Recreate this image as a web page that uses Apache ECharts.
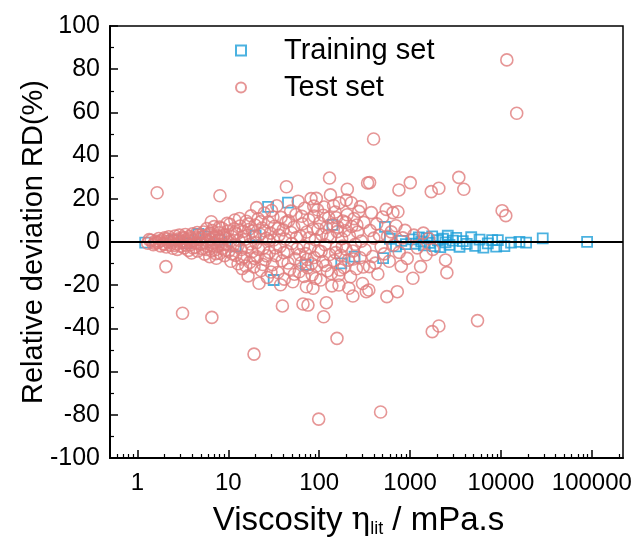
<!DOCTYPE html>
<html><head><meta charset="utf-8">
<script src="https://cdn.jsdelivr.net/npm/echarts@6/dist/echarts.min.js"></script>
<style>html,body{margin:0;padding:0;background:#fff}#c{width:639px;height:538px}</style>
</head><body><div id="c"></div>
<script>
// Tick labels
const xMajorTicks = [1, 10, 100, 1000, 10000, 100000];
const xMinorTicks = [0.6,0.7,0.8,0.9,2,3,4,5,6,7,8,9,20,30,40,50,60,70,80,90,200,300,400,500,600,700,800,900,2000,3000,4000,5000,6000,7000,8000,9000,20000,30000,40000,50000,60000,70000,80000,90000,200000];
const yTicks = [-100,-80,-60,-40,-20,0,20,40,60,80,100];

// Series: [viscosity (mPa.s), relative deviation (%)]
const trainingSet = [
 [1.22,-0.3],[2.5,0.8],[3.5,-0.5],[4.7,3.7],[5.6,2.5],[8,1],[12,-2],[20,3],[27.4,16.3],[31.6,-17.6],[45.4,18.2],[71,-10.6],[140,7.9],[175,-9.9],[245,-6.8],[505,-7.5],[530,7.0],[600,1.5],[700,-2],[800,0.5],[900,-1],
 [1074,1.2],[1150,-0.8],[1250,2.1],[1327,0.3],[1420,-1.6],[1520,1.8],[1638,-0.4],[1750,2.6],[1870,-1.9],[2021,0.8],[2150,-2.4],[2300,1.5],[2456,-0.2],[2600,2.9],[2717,-1.3],[2950,0.6],[3218,1.9],[3500,-2.2],[3803,0.4],[4200,-0.9],[4706,2.2],[5200,-1.8],[5810,1.1],[6400,-2.6],[7164,-0.6],[8000,0.9],[8858,-2.1],[9230,0.9],[10900,-1.9],[12900,-0.3],[15960,0.1],[18900,-0.3],[28800,1.7],[88600,0.1]
];
const testSet = [
 [1.65,22.8],[2.06,-11.4],[3.14,-33.0],[6.6,-34.9],[8.1,21.4],[6.5,9.4],[19.2,-51.9],
 [1.3,-0.6],[1.42,0.8],[1.5,-1.2],[1.58,0.4],[1.66,-0.3],[1.72,1.6],[1.8,-1.8],[1.86,0.9],[1.93,-0.7],[2.0,1.9],[2.08,-2.3],[2.15,0.2],[2.22,2.4],[2.3,-1.4],[2.38,1.1],[2.45,-2.9],[2.52,0.6],[2.6,2.8],[2.68,-0.9],[2.75,-3.4],[2.83,1.5],[2.9,3.2],[3.0,-1.9],[3.1,0.3],[3.2,2.1],[3.28,-2.7],[3.37,3.5],[3.45,-0.4],[3.55,1.3],[3.65,-3.9],[3.75,2.6],[3.85,-1.2],[3.95,-5.1],[4.05,3.8],[4.15,0.7],[4.3,-2.4],[4.45,1.9],[4.6,-4.2],[4.75,3.1],[4.9,-0.8],
 [1.35,1.1],[1.55,-0.5],[1.75,0.3],[1.98,-1.1],[2.12,1.3],[2.35,-0.2],[2.57,-1.6],[2.78,0.9],[2.95,-0.3],[3.15,1.7],[3.42,-1.5],[3.7,0.5],[3.9,1.9],[4.1,-2.8],[4.38,-0.4],[4.55,4.4],[4.85,1.2],
 [5.05,2.3],[5.2,-3.1],[5.35,4.6],[5.5,-5.6],[5.65,0.9],[5.8,6.2],[5.95,-2.2],[6.1,3.4],[6.25,-6.8],[6.4,1.2],[6.55,-4.1],[6.7,5.3],[6.85,-0.5],[7.0,7.1],[7.2,-3.6],[7.4,-7.5],[7.55,2.8],[7.7,-1.7],[7.9,4.3],[8.1,-5.2],[8.3,0.6],[8.5,6.4],[8.7,-2.9],[8.9,3.2],[9.1,-6.3],[9.35,1.8],[9.6,-0.9],[9.85,5.1],
 [5.12,-1.1],[5.45,2.9],[5.72,-3.4],[6.0,0.2],[6.3,4.1],[6.62,-1.8],[6.95,2.4],[7.3,-5.4],[7.65,0.9],[8.0,6.9],[8.4,-1.2],[8.8,2.5],[9.25,-3.8],[9.7,8.6],
 [10.1,-4.3],[10.4,8.2],[10.7,-8.9],[11.0,2.4],[11.3,-1.6],[11.6,6.1],[11.8,10.2],[12.1,-6.2],[12.4,3.7],[12.8,-10.1],[13.1,0.8],[13.5,7.4],[13.9,-3.5],[14.2,-12.3],[14.6,4.9],[15.0,-7.1],[15.4,1.3],[15.8,9.6],[16.2,-2.4],[16.5,-15.7],[16.8,5.8],[17.3,-9.4],[17.8,12.1],[18.2,-4.6],[18.7,2.1],[19.2,-11.5],[19.7,7.9],[20.2,-0.4],[20.8,-6.8],[21.3,10.7],[21.8,-19.1],[22.4,3.6],[23.0,-13.2],[23.6,6.5],[24.2,-2.9],[24.9,13.4],[25.5,-8.1],[26.2,1.7],[26.9,-16.4],[27.6,9.2],[28.3,-4.8],[29.1,4.1],[29.9,14.6],
 [10.6,0.4],[11.1,-5.5],[11.9,4.3],[12.6,-2.2],[13.3,10.9],[14.0,-7.9],[14.9,2.6],[15.6,-11.1],[16.6,8.4],[17.5,-0.9],[18.5,5.1],[19.5,-7.6],[20.5,15.9],[21.6,-3.4],[22.8,9.4],[24.0,-10.4],[25.2,5.2],[26.5,-6.4],[28.0,0.7],[29.5,-13.9],
 [30.7,-10.5],[31.5,0.9],[32.4,7.3],[33.3,-6.3],[34.2,16.8],[35.1,-14.1],[36.1,3.2],[37.1,-2.1],[38.1,11.4],[39.1,-8.7],[39.4,-29.6],[40.2,5.6],[41.3,-17.2],[42.4,1.4],[43.6,25.6],[44.8,-4.4],[46.0,9.8],[47.3,-12.6],[48.6,14.3],[49.9,-0.7],[51.3,-18.4],[52.7,6.9],[54.1,-7.8],[55.6,12.8],[57.1,-3.1],[58.7,18.9],[60.3,-13.8],[62.0,2.7],[63.7,-9.6],[65.4,8.4],[66.4,-28.7],[67.2,-1.9],[69.1,15.6],[71.0,-5.4],[72.3,-20.7],[73.0,4.6],[75.0,-11.9],[75.3,-29.2],[77.1,10.3],[79.2,-2.6],[81.4,20.1],[83.6,-15.2],[85.5,-21.4],[86.0,6.1],[88.0,12.0],[88.3,-7.2],[90.8,1.1],[93.0,20.2],[93.3,-11.1],[95.9,14.9],[98.8,-82.0],[98.6,-4.1],
 [31.0,11.6],[33.0,-2.7],[35.5,6.3],[37.6,-19.8],[40.8,-4.9],[43.0,9.1],[45.5,-9.7],[49.0,4.4],[53.4,-14.9],[56.3,2.1],[61.0,-5.9],[64.5,11.9],[68.0,-15.9],[74.0,-8.1],[78.1,1.9],[82.5,-10.1],[87.1,16.6],[92.0,-16.9],[97.0,5.9],
 [101,8.9],[104,-17.6],[107,3.4],[110,-9.1],[112,-34.6],[113,16.2],[116,-1.3],[120,-28.1],[120,6.7],[123,-13.4],[127,11.3],[130,29.6],[130,-5.8],[133,21.8],[134,2.2],[138,-20.3],[142,8.1],[146,-8.6],[150,13.9],[154,-2.7],[155,11.2],[157,-44.6],[158,4.8],[163,-15.4],[165,-19.9],[167,18.1],[172,-6.1],[177,1.5],[182,9.7],[187,-11.8],[192,5.2],[199,19.4],[197,-3.3],[204,24.4],[203,12.6],[209,-8.4],[215,2.9],[221,-16.1],[226,18.2],[228,7.2],[235,-25.0],[235,-4.2],[242,10.8],[249,-1.1],[257,-12.4],[265,4.6],[273,14.2],[282,-7.3],[291,0.4],[300,-19.2],
 [105,-4.4],[111,12.4],[118,-10.9],[125,2.9],[136,-14.6],[144,16.9],[152,-4.9],[161,6.9],[170,-12.9],[180,-1.9],[195,9.1],[212,-21.4],[238,-7.9],[260,7.9],[285,16.4],[305,-11.6],
 [310,9.1],[320,-3.6],[330,-23.0],[341,27.3],[352,-22.2],[357,-11.4],[359,27.5],[363,5.3],[375,13.6],[388,-6.7],[397,47.7],[400,1.8],[415,-9.8],[430,8.4],[442,-14.8],[460,3.1],[474,-78.7],[480,-2.2],[500,11.6],[520,-5.5],[547,15.1],[556,-25.3],[565,2.6],[590,-8.9],[620,4.7],[648,13.6],[660,-1.4],[700,7.5],[723,-23.0],[735,14.0],[754,24.1],[760,-4.8],[800,-11.2],[830,1.9],[880,5.4],[930,-7.6],
 [1005,27.5],[1074,-16.8],[1100,3.2],[1200,-2.7],[1305,-11.4],[1400,4.1],[1500,-5.9],[1600,1.6],[1710,23.3],[1754,-41.5],[1780,-3.4],[2073,24.9],[2074,-38.9],[2455,-8.3],[2540,-14.2],[3437,29.9],[3900,24.4],[5520,-36.4],[10300,14.5],[11300,12.2],[11600,84.3],[14900,59.6]
];

const FONT = 'Liberation Sans, Arial, sans-serif';
const BLUE = '#1E9FD8';
const RED = '#E07C7C';

const chart = echarts.init(document.getElementById('c'), null, {renderer: 'canvas'});
const xBase = {
  type: 'log', logBase: 10, min: 0.5, max: 220000, gridIndex: 0, position: 'bottom',
  splitLine: {show: false}, minorTick: {show: false}, minorSplitLine: {show: false}
};
chart.setOption({
  animation: false,
  backgroundColor: '#fff',
  grid: {left: 110, right: 16, top: 26, bottom: 80, show: true, borderColor: '#000', borderWidth: 1.5,
         containLabel: false, outerBoundsMode: 'none'},
  legend: {
    orient: 'vertical', left: 230, top: 31, itemGap: 8, itemWidth: 10, itemHeight: 10,
    data: ['Training set', 'Test set'],
    formatter: function (n) { return '{g|}{t|' + n + '}'; },
    textStyle: {
      rich: {
        g: {width: 33, lineHeight: 30},
        t: {fontFamily: FONT, fontSize: 29, color: '#000', lineHeight: 30}
      }
    }
  },
  xAxis: [
    Object.assign({}, xBase, {
      axisLine: {show: true, onZero: false, lineStyle: {color: '#000', width: 2}},
      axisTick: {show: true, inside: true, length: 8, lineStyle: {color: '#000', width: 1.5}, customValues: xMajorTicks},
      axisLabel: {show: true, customValues: xMajorTicks, fontFamily: FONT, fontSize: 24, color: '#000', margin: 13,
        formatter: function (v) { return String(Math.round(v)); }},
      name: '{n|Viscosity }{e|η}{s|lit}{m| / mPa.s}',
      nameLocation: 'middle', nameGap: 46,
      nameTextStyle: {
        rich: {
          n: {fontFamily: FONT, fontSize: 33, color: '#000', lineHeight: 34},
          m: {fontFamily: FONT, fontSize: 33, color: '#000', lineHeight: 34, padding: [0, 16, 0, 0]},
          e: {fontFamily: 'DejaVu Serif, serif', fontSize: 31, color: '#000', lineHeight: 34},
          s: {fontFamily: FONT, fontSize: 18, color: '#000', lineHeight: 16, verticalAlign: 'bottom'}
        }
      }
    }),
    Object.assign({}, xBase, {
      axisLine: {show: false, onZero: false},
      axisTick: {show: true, inside: true, length: 4, lineStyle: {color: '#000', width: 1.2}, customValues: xMinorTicks},
      axisLabel: {show: false}
    })
  ],
  yAxis: {
    type: 'value', min: -100, max: 100, interval: 20,
    axisLine: {show: true, onZero: false, lineStyle: {color: '#000', width: 2}},
    axisTick: {show: true, inside: true, length: 8, lineStyle: {color: '#000', width: 1.5}},
    minorTick: {show: true, splitNumber: 2, length: 4, lineStyle: {color: '#000', width: 1.2}},
    splitLine: {show: false},
    axisLabel: {fontFamily: FONT, fontSize: 25, color: '#000', margin: 10},
    name: 'Relative deviation RD(%)', nameLocation: 'middle', nameGap: 62, nameMoveOverlap: false,
    nameTextStyle: {fontFamily: FONT, fontSize: 29, color: '#000'}
  },
  series: [
    {
      name: 'Training set', type: 'scatter', xAxisIndex: 0, data: trainingSet,
      symbol: 'rect', symbolSize: 10,
      itemStyle: {color: 'rgba(0,0,0,0)', borderColor: BLUE, borderWidth: 1.8}
    },
    {
      name: 'Test set', type: 'scatter', xAxisIndex: 0, data: testSet,
      symbol: 'circle', symbolSize: 12,
      itemStyle: {color: 'rgba(0,0,0,0)', borderColor: RED, borderWidth: 1.6},
      markLine: {
        silent: true, symbol: ['none', 'none'], label: {show: false},
        lineStyle: {color: '#000', type: 'solid', width: 2},
        data: [{yAxis: 0}]
      }
    }
  ]
});
</script>
</body></html>
